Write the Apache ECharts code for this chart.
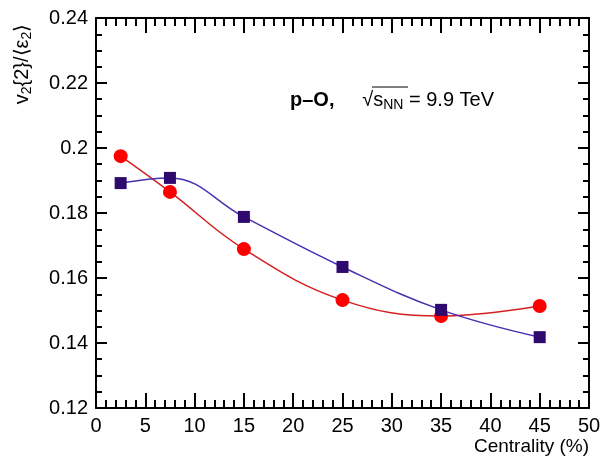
<!DOCTYPE html>
<html><head><meta charset="utf-8">
<script src="https://cdn.jsdelivr.net/npm/echarts@6/dist/echarts.min.js"></script>
<style>html,body{margin:0;padding:0;background:#fff}#c{width:604px;height:463px}</style>
</head><body><div id="c"></div>
<script>
const centrality = [2.5, 7.5, 15, 25, 35, 45];
const redCircles = [0.1975, 0.1865, 0.1689, 0.1532, 0.1483, 0.1514];
const blueSquares = [0.1892, 0.1908, 0.1788, 0.1634, 0.1502, 0.1418];
const xTicks = [0, 5, 10, 15, 20, 25, 30, 35, 40, 45, 50];
const yTicks = [0.12, 0.14, 0.16, 0.18, 0.2, 0.22, 0.24];

const font = 'Liberation Sans, Arial, sans-serif';
const chart = echarts.init(document.getElementById('c'));
const pair = (xs, ys) => xs.map((x, i) => [x, ys[i]]);
function mkAxis(type, pos, min, max, interval, majorLen, minorLen, minorSplit, labels, labelMargin) {
  return {
    type: 'value', min: min, max: max, interval: interval, position: pos,
    axisLine: {show: true, onZero: false, lineStyle: {color: '#000', width: 2}},
    splitLine: {show: false},
    axisTick: {show: true, inside: true, length: majorLen, lineStyle: {color: '#000', width: 2}},
    minorTick: {show: true, inside: true, splitNumber: minorSplit, length: minorLen, lineStyle: {color: '#000', width: 2}},
    axisLabel: labels ? {show: true, inside: false, color: '#000', fontSize: 20, fontFamily: font, margin: labelMargin,
      formatter: v => String(+v.toFixed(2))} : {show: false}
  };
}
chart.setOption({
  animation: false,
  backgroundColor: '#fff',
  grid: {left: 96, right: 15, top: 18, bottom: 55},
  xAxis: [
    mkAxis('x', 'bottom', xTicks[0], xTicks[xTicks.length - 1], 5, 15, 8, 5, true, 8),
    mkAxis('x', 'top', xTicks[0], xTicks[xTicks.length - 1], 5, 15, 8, 5, false, 0)
  ],
  yAxis: [
    mkAxis('y', 'left', yTicks[0], yTicks[yTicks.length - 1], 0.02, 11, 6, 4, true, 8),
    mkAxis('y', 'right', yTicks[0], yTicks[yTicks.length - 1], 0.02, 11, 6, 4, false, 0)
  ],
  series: [
    {type: 'line', data: pair(centrality, redCircles), smooth: 0.4,
      symbol: 'circle', symbolSize: 14,
      itemStyle: {color: '#ff0000'}, lineStyle: {color: '#d42020', width: 1.5}, z: 3},
    {type: 'line', data: pair(centrality, blueSquares), smooth: 0.4,
      symbol: 'rect', symbolSize: 12,
      itemStyle: {color: '#2e0a6e'}, lineStyle: {color: '#4a2fb0', width: 1.5}, z: 4}
  ],
  graphic: [
    {type: 'text', x: 22, y: 64, rotation: Math.PI / 2,
      style: {text: '{n|v}{s|2}{2}/⟨ε{s|2}⟩', align: 'center', verticalAlign: 'middle',
        fontSize: 20, fontFamily: font, fill: '#000',
        rich: {n: {fontSize: 20, fontFamily: font, fill: '#000'},
               s: {fontSize: 14, fontFamily: font, fill: '#000', padding: [10, 0, 0, 0]}}}},
    {type: 'text', x: 589, y: 447,
      style: {text: 'Centrality (%)', align: 'right', verticalAlign: 'middle',
        fontSize: 19, fontFamily: font, fill: '#000'}},
    {type: 'text', x: 290, y: 100,
      style: {text: '{b|p–O,}{n|     √}{n|s}{s|NN}{n| = 9.9 TeV}', align: 'left', verticalAlign: 'middle',
        rich: {b: {fontSize: 20, fontWeight: 'bold', fontFamily: font, fill: '#000'},
               n: {fontSize: 20, fontFamily: font, fill: '#000'},
               s: {fontSize: 14, fontFamily: font, fill: '#000', padding: [10, 0, 0, 0]}}}},
    {type: 'line', shape: {x1: 372, y1: 87, x2: 408, y2: 87}, style: {stroke: '#000', lineWidth: 1}}
  ]
});
</script></body></html>
